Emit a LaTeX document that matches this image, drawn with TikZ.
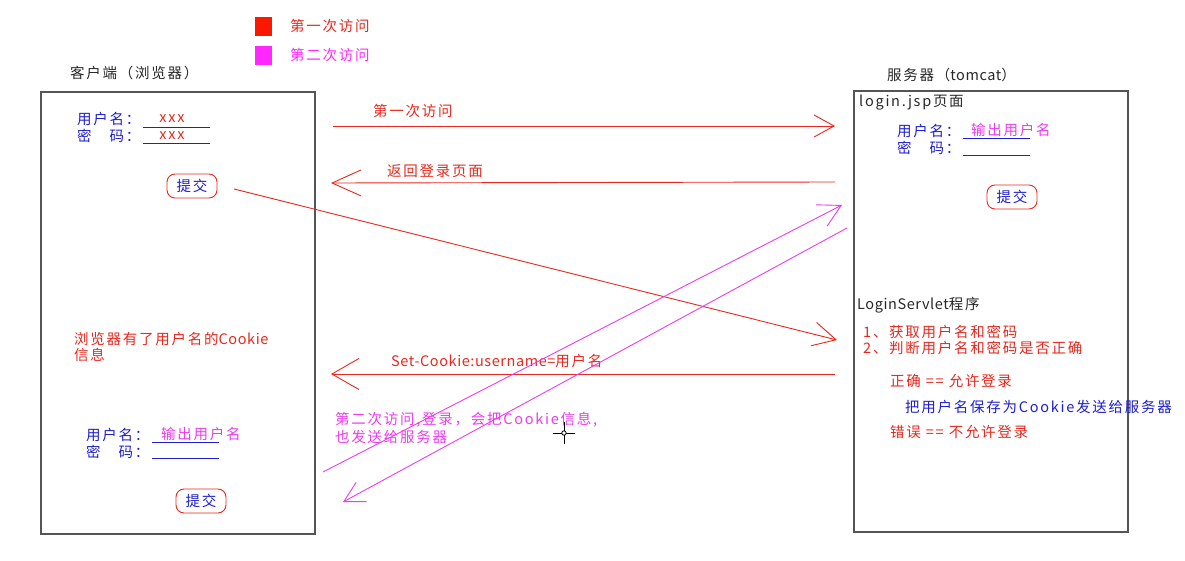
\documentclass[tikz,border=0pt]{standalone}
\usepackage{fontspec}
\newfontfamily\cjk[LetterSpace=12]{Noto Sans CJK SC}
\newfontfamily\cjkn[LetterSpace=4]{Noto Sans CJK SC}
\usetikzlibrary{arrows.meta}
\definecolor{cred}{RGB}{232,40,30}
\definecolor{legred}{RGB}{250,25,0}
\definecolor{cmag}{RGB}{235,60,240}
\definecolor{legmag}{RGB}{255,40,255}
\definecolor{cblue}{RGB}{30,30,210}
\definecolor{cgray}{RGB}{85,85,85}
\definecolor{ctitle}{RGB}{40,40,40}
\begin{document}
\begin{tikzpicture}[x=1pt,y=-1pt,
  txt/.style={font=\cjk\fontsize{14.5}{17}\selectfont, inner sep=0pt, anchor=west},
  panel/.style={draw=cgray, line width=1.7pt, anchor=north west, inner sep=0pt},
  btn/.style={draw=cred, line width=0.9pt, rounded corners=8pt, minimum width=50pt, minimum height=24pt, inner sep=0pt, text=cblue, font=\cjk\fontsize{14.5}{17}\selectfont},
  uline/.style={draw=cblue, line width=0.9pt},
  legsq/.style={minimum width=17pt, minimum height=19pt, inner sep=0pt, anchor=north west},
  redarr/.style={draw=cred, line width=0.9pt},
  magarr/.style={draw=cmag, line width=0.9pt}
]
\useasboundingbox (0,0) rectangle (1185,561);
\fill[white] (0,0) rectangle (1185,561);

% legend
\node[legsq, fill=legred] (sq1) at (255,17) {};
\node[txt, text=cred] (lg1) at (290,26) {第一次访问};
\node[legsq, fill=legmag] (sq2) at (255,46) {};
\node[txt, text=legmag] (lg2) at (290,55) {第二次访问};

% titles
\node[txt, text=ctitle] (tclient) at (70,73) {客户端（浏览器）};
\node[txt, text=ctitle] (tserver) at (887,75) {服务器（{\cjkn tomcat}）};

% panels
\node[panel, minimum width=274pt, minimum height=442pt] (client) at (40,91) {};
\node[panel, minimum width=274pt, minimum height=441pt] (server) at (853,90) {};

% client top form
\node[txt, text=cblue] (cu1) at (77,119) {用户名：};
\draw[uline] (143,127) -- (210,127);
\node[txt, anchor=center, text=cred] (cx1) at (172,119) {xxx};
\node[txt, text=cblue] (cp1) at (77,136) {密　码：};
\draw[uline] (143,143) -- (210,143);
\node[txt, anchor=center, text=cred] (cx2) at (172,136) {xxx};
\node[btn] (cb1) at (192,186) {提交};

% client cookie info
\node[txt, text=cred] (cinfo1) at (74,339) {浏览器有了用户名的{\cjkn Cookie}};
\node[txt, text=cred] (cinfo2) at (74,355) {信息};

% client lower form
\node[txt, text=cblue] (cu2) at (86,435) {用户名：};
\node[txt, text=cmag] (cn2) at (161,434) {输出用户名};
\draw[uline] (152,442) -- (219,442);
\node[txt, text=cblue] (cp2) at (86,452) {密　码：};
\draw[uline] (152,458) -- (219,458);
\node[btn] (cb2) at (201,501) {提交};

% server login.jsp
\node[txt, text=ctitle] (sjsp) at (859,103) {login.jsp页面};
\node[txt, text=cblue] (su) at (897,131) {用户名：};
\node[txt, text=cmag] (sn) at (971,130) {输出用户名};
\draw[uline] (963,138) -- (1030,138);
\node[txt, text=cblue] (sp) at (897,148) {密　码：};
\draw[uline] (963,155) -- (1030,155);
\node[btn] (sb) at (1012,197) {提交};

% server servlet
\node[txt, text=ctitle] (sserv) at (857,305) {{\cjkn LoginServlet}程序};
\node[txt, text=cred] (s1) at (863,332) {1、获取用户名和密码};
\node[txt, text=cred] (s2) at (863,348) {2、判断用户名和密码是否正确};
\node[txt, text=cred] (sok) at (890,381) {正确 == 允许登录};
\node[txt, text=cblue] (ssave) at (905,407) {把用户名保存为Cookie发送给服务器};
\node[txt, text=cred] (serr) at (890,432) {错误 == 不允许登录};

% connector end points
\coordinate (a1s) at (333,126);
\coordinate (a1e) at (835,126);
\coordinate (a2s) at (835,182);
\coordinate (a2e) at (331,183);
\coordinate (a3s) at (234,189);
\coordinate (a3e) at (837,340);
\coordinate (a4s) at (835,374);
\coordinate (a4e) at (331,374);
\coordinate (a5s) at (323,472);
\coordinate (a5e) at (842,205);
\coordinate (a6s) at (847,228);
\coordinate (a6e) at (343,502);

% arrows
\draw[redarr, -{Straight Barb[length=20pt,width=22pt]}] (a1s) -- (a1e);
\node[txt, text=cred] (l1) at (373,111) {第一次访问};
\draw[redarr, -{Straight Barb[length=29pt,width=26pt]}] (a2s) -- (a2e);
\node[txt, text=cred] (l2) at (387,171) {返回登录页面};
\draw[redarr, -{Straight Barb[length=23pt,width=24pt]}] (a3s) -- (a3e);
\draw[redarr, -{Straight Barb[length=27pt,width=31pt]}] (a4s) -- (a4e);
\node[txt, text=cred] (l4) at (391,361) {{\cjkn Set-Cookie:username=}用户名};
\draw[magarr, -{Straight Barb[length=22pt,width=24pt]}] (a5s) -- (a5e);
\draw[magarr, -{Straight Barb[length=20pt,width=22pt]}] (a6s) -- (a6e);
\node[txt, text=cmag] (l5a) at (335,420) {第二次访问,登录，会把Cookie信息,};
\node[txt, text=cmag] (l5b) at (335,437) {也发送给服务器};

% cursor
\draw[black, line width=1pt] (553,433) -- (575,433) (564,422) -- (564,444);
\draw[black, fill=white, line width=0.8pt] (564,433) circle (2.2pt);
\end{tikzpicture}
\end{document}
